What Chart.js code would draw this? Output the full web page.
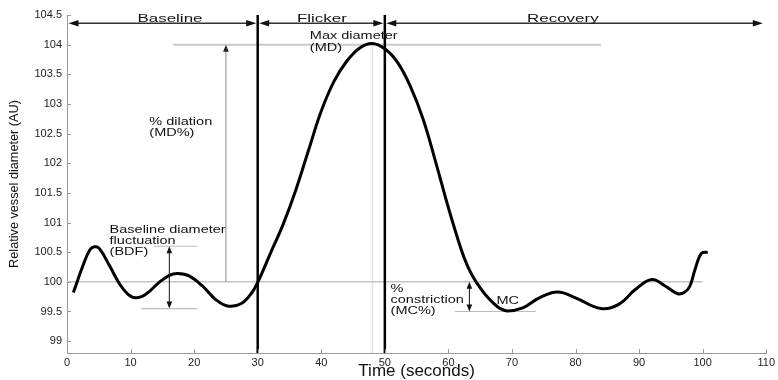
<!DOCTYPE html>
<html><head><meta charset="utf-8">
<script src="https://cdn.jsdelivr.net/npm/chart.js@4.4.1/dist/chart.umd.min.js"></script>
<style>html,body{margin:0;padding:0;background:#fff;}#wrap{width:778px;height:380px;}</style>
</head><body><div id="wrap"><canvas id="c" width="778" height="380"></canvas></div>
<script>
// ---- data ----
const timeSec  = [1, 2.5, 3.6, 4.3, 5.1, 6.7, 8.3, 9.6, 10.9, 12.4, 14.5, 16.1, 17.4, 19.2, 21.3, 23.4, 25.4, 27.5, 29.1, 30, 32, 34, 36, 38, 40, 42, 44, 46, 48, 50, 52, 54, 56, 58, 60, 62, 63, 64, 65, 66, 67, 68, 69.3, 71.7, 74.3, 77.2, 80.0, 84.0, 86.8, 89.4, 92.0, 94.1, 96.1, 97.2, 98.0, 98.8, 99.8, 100.8];
const diameter = [99.82, 100.27, 100.54, 100.59, 100.56, 100.27, 99.96, 99.79, 99.73, 99.79, 99.99, 100.11, 100.14, 100.10, 99.93, 99.70, 99.59, 99.64, 99.82, 99.99, 100.48, 100.97, 101.55, 102.22, 102.88, 103.38, 103.72, 103.94, 104.02, 103.93, 103.70, 103.30, 102.75, 102.02, 101.25, 100.55, 100.27, 100.06, 99.90, 99.76, 99.65, 99.56, 99.51, 99.56, 99.73, 99.83, 99.73, 99.55, 99.62, 99.87, 100.04, 99.93, 99.80, 99.83, 99.93, 100.21, 100.48, 100.50];
const xTicks = [0, 10, 20, 30, 40, 50, 60, 70, 80, 90, 100, 110];
const yTicks = [99, 99.5, 100, 100.5, 101, 101.5, 102, 102.5, 103, 103.5, 104, 104.5];
const xRange = [0, 110];
const yRange = [98.8, 104.5];

const phaseNames  = ['Baseline', 'Flicker', 'Recovery'];
const phaseStart  = [0, 30, 50];
const phaseEnd    = [30, 50, 109.7];
const phaseLabelX = [16.2, 40.1, 78.0];
const phaseRowY   = 104.36;
const phaseLabelY = 104.44;
const phaseBounds = [30, 50];

const baselineLevel = 100;
const baselineSpan  = [0, 100];
const maxDiameter   = 104.0;
const maxSpan       = [16.7, 84];
const maxTime       = 48.05;
const dilationArrowX = 25;

const bdfTop = 100.6, bdfBottom = 99.55;
const bdfTopSpan = [13.7, 20.5];
const bdfBottomSpan = [11.7, 20.5];
const bdfArrowX = 16.1;

const mcLevel = 99.5;
const mcSpan = [61, 73.8];
const mcArrowX = 63.3;

const textLabels = [
  {t: 'Max diameter', x: 38.2, y: 104.14},
  {t: '(MD)', x: 38.2, y: 103.94},
  {t: '% dilation', x: 12.95, y: 102.69},
  {t: '(MD%)', x: 12.95, y: 102.50},
  {t: 'Baseline diameter', x: 6.7, y: 100.87},
  {t: 'fluctuation', x: 6.7, y: 100.68},
  {t: '(BDF)', x: 6.7, y: 100.50},
  {t: '%', x: 50.9, y: 99.87},
  {t: 'constriction', x: 50.9, y: 99.69},
  {t: '(MC%)', x: 50.9, y: 99.50},
  {t: 'MC', x: 67.55, y: 99.67}
];

// ---- helpers ----
const pts = (xs, ys) => xs.map((x, i) => ({x, y: ys[i]}));
const seg = (x0, y0, x1, y1) => [{x: x0, y: y0}, {x: x1, y: y1}];
const lineDs = (data, color, width, order) => ({data, borderColor: color, borderWidth: width, pointRadius: 0, tension: 0, order, fill: false});

const datasets = [
  Object.assign(lineDs(pts(timeSec, diameter), '#000', 3, 0), {tension: 0.4}),
  lineDs(seg(phaseBounds[0], yRange[0], phaseBounds[0], yRange[1]), '#000', 2.5, 1),
  lineDs(seg(phaseBounds[1], yRange[0], phaseBounds[1], yRange[1]), '#000', 2.5, 1),
  lineDs(seg(baselineSpan[0], baselineLevel, baselineSpan[1], baselineLevel), '#c4c4c4', 1.5, 5),
  lineDs(seg(maxSpan[0], maxDiameter, maxSpan[1], maxDiameter), '#c8c8c8', 2, 5),
  lineDs(seg(maxTime, yRange[0], maxTime, maxDiameter), '#e2e2e2', 1.5, 6),
  lineDs(seg(dilationArrowX, baselineLevel, dilationArrowX, maxDiameter - 0.08), '#9a9a9a', 1.2, 4),
  lineDs(seg(bdfTopSpan[0], bdfTop, bdfTopSpan[1], bdfTop), '#bdbdbd', 1.2, 5),
  lineDs(seg(bdfBottomSpan[0], bdfBottom, bdfBottomSpan[1], bdfBottom), '#bdbdbd', 1.2, 5),
  lineDs(seg(mcSpan[0], mcLevel, mcSpan[1], mcLevel), '#bdbdbd', 1.2, 5)
];

function arrowHead(ctx, x, y, dir, len, half, color) {
  ctx.fillStyle = color;
  ctx.beginPath();
  ctx.moveTo(x, y);
  if (dir === 'l') { ctx.lineTo(x + len, y - half); ctx.lineTo(x + len, y + half); }
  if (dir === 'r') { ctx.lineTo(x - len, y - half); ctx.lineTo(x - len, y + half); }
  if (dir === 'u') { ctx.lineTo(x - half, y + len); ctx.lineTo(x + half, y + len); }
  if (dir === 'd') { ctx.lineTo(x - half, y - len); ctx.lineTo(x + half, y - len); }
  ctx.closePath();
  ctx.fill();
}
function stretchText(ctx, t, x, y, size, align, sx) {
  ctx.save();
  ctx.translate(x, y);
  ctx.scale(sx, 1);
  ctx.font = size + 'px "Liberation Sans", Arial, sans-serif';
  ctx.textAlign = align;
  ctx.textBaseline = 'middle';
  ctx.fillStyle = '#111';
  ctx.fillText(t, 0, 0);
  ctx.restore();
}

const annot = {
  id: 'annot',
  afterDatasetsDraw(chart) {
    const ctx = chart.ctx, xs = chart.scales.x, ys = chart.scales.y;
    const X = v => xs.getPixelForValue(v), Y = v => ys.getPixelForValue(v);
    ctx.save();
    ctx.strokeStyle = '#9a9a9a'; ctx.lineWidth = 1;
    xTicks.forEach(v => { const p = Math.round(X(v)) + 0.5; ctx.beginPath(); ctx.moveTo(p, ys.bottom); ctx.lineTo(p, ys.bottom - 4); ctx.stroke(); });
    yTicks.forEach(v => { const p = Math.round(Y(v)) + 0.5; ctx.beginPath(); ctx.moveTo(xs.left, p); ctx.lineTo(xs.left + 4, p); ctx.stroke(); });
    const ry = Y(phaseRowY);
    ctx.strokeStyle = '#333'; ctx.lineWidth = 1.5;
    phaseNames.forEach((n, i) => {
      const a = X(phaseStart[i]) + 1.5, b = X(phaseEnd[i]) - 1.5;
      ctx.beginPath(); ctx.moveTo(a + 4, ry); ctx.lineTo(b - 4, ry); ctx.stroke();
      arrowHead(ctx, a, ry, 'l', 10, 3.2, '#111');
      arrowHead(ctx, b, ry, 'r', 10, 3.2, '#111');
      stretchText(ctx, n, X(phaseLabelX[i]), Y(phaseLabelY), 11.7, 'center', 1.45);
    });
    arrowHead(ctx, X(dilationArrowX), Y(maxDiameter), 'u', 7, 2.8, '#222');
    ctx.strokeStyle = '#111'; ctx.lineWidth = 1;
    [[bdfArrowX, bdfTop, bdfBottom], [mcArrowX, baselineLevel, mcLevel]].forEach(([ax, t, b]) => {
      const px = X(ax), pt = Y(t), pb = Y(b);
      ctx.beginPath(); ctx.moveTo(px, pt + 3); ctx.lineTo(px, pb - 3); ctx.stroke();
      arrowHead(ctx, px, pt, 'u', 7, 2.8, '#111');
      arrowHead(ctx, px, pb, 'd', 7, 2.8, '#111');
    });
    textLabels.forEach(l => stretchText(ctx, l.t, X(l.x), Y(l.y), 10, 'left', 1.45));
    ctx.restore();
  }
};

new Chart(document.getElementById('c'), {
  type: 'line',
  data: {datasets},
  options: {
    responsive: false, animation: false, devicePixelRatio: 1,
    layout: {padding: {left: 0, right: 6, top: 15, bottom: 0}},
    plugins: {legend: {display: false}, tooltip: {enabled: false}},
    scales: {
      x: {
        type: 'linear', min: xRange[0], max: xRange[1],
        afterBuildTicks: s => { s.ticks = xTicks.map(v => ({value: v})); },
        afterFit: s => { s.height = 27; },
        grid: {display: false, drawTicks: false},
        border: {display: true, color: '#9a9a9a', width: 1},
        ticks: {padding: 3, color: '#222', font: {family: '"Liberation Sans", Arial, sans-serif', size: 11}, maxRotation: 0, autoSkip: false},
        title: {display: true, text: 'Time (seconds)', color: '#111', padding: {top: 0, bottom: 0}, font: {family: '"Liberation Sans", Arial, sans-serif', size: 17, lineHeight: 1}}
      },
      y: {
        type: 'linear', min: yRange[0], max: yRange[1],
        afterBuildTicks: s => { s.ticks = yTicks.map(v => ({value: v})); },
        afterFit: s => { s.width = 67; },
        grid: {display: false, drawTicks: false},
        border: {display: true, color: '#9a9a9a', width: 1},
        ticks: {padding: 5, color: '#222', font: {family: '"Liberation Sans", Arial, sans-serif', size: 11}, callback: v => String(v)},
        title: {display: true, text: 'Relative vessel diameter (AU)', color: '#111', padding: {top: 8, bottom: 0}, font: {family: '"Liberation Sans", Arial, sans-serif', size: 12.7, lineHeight: 1}}
      }
    }
  },
  plugins: [annot]
});
</script></body></html>
